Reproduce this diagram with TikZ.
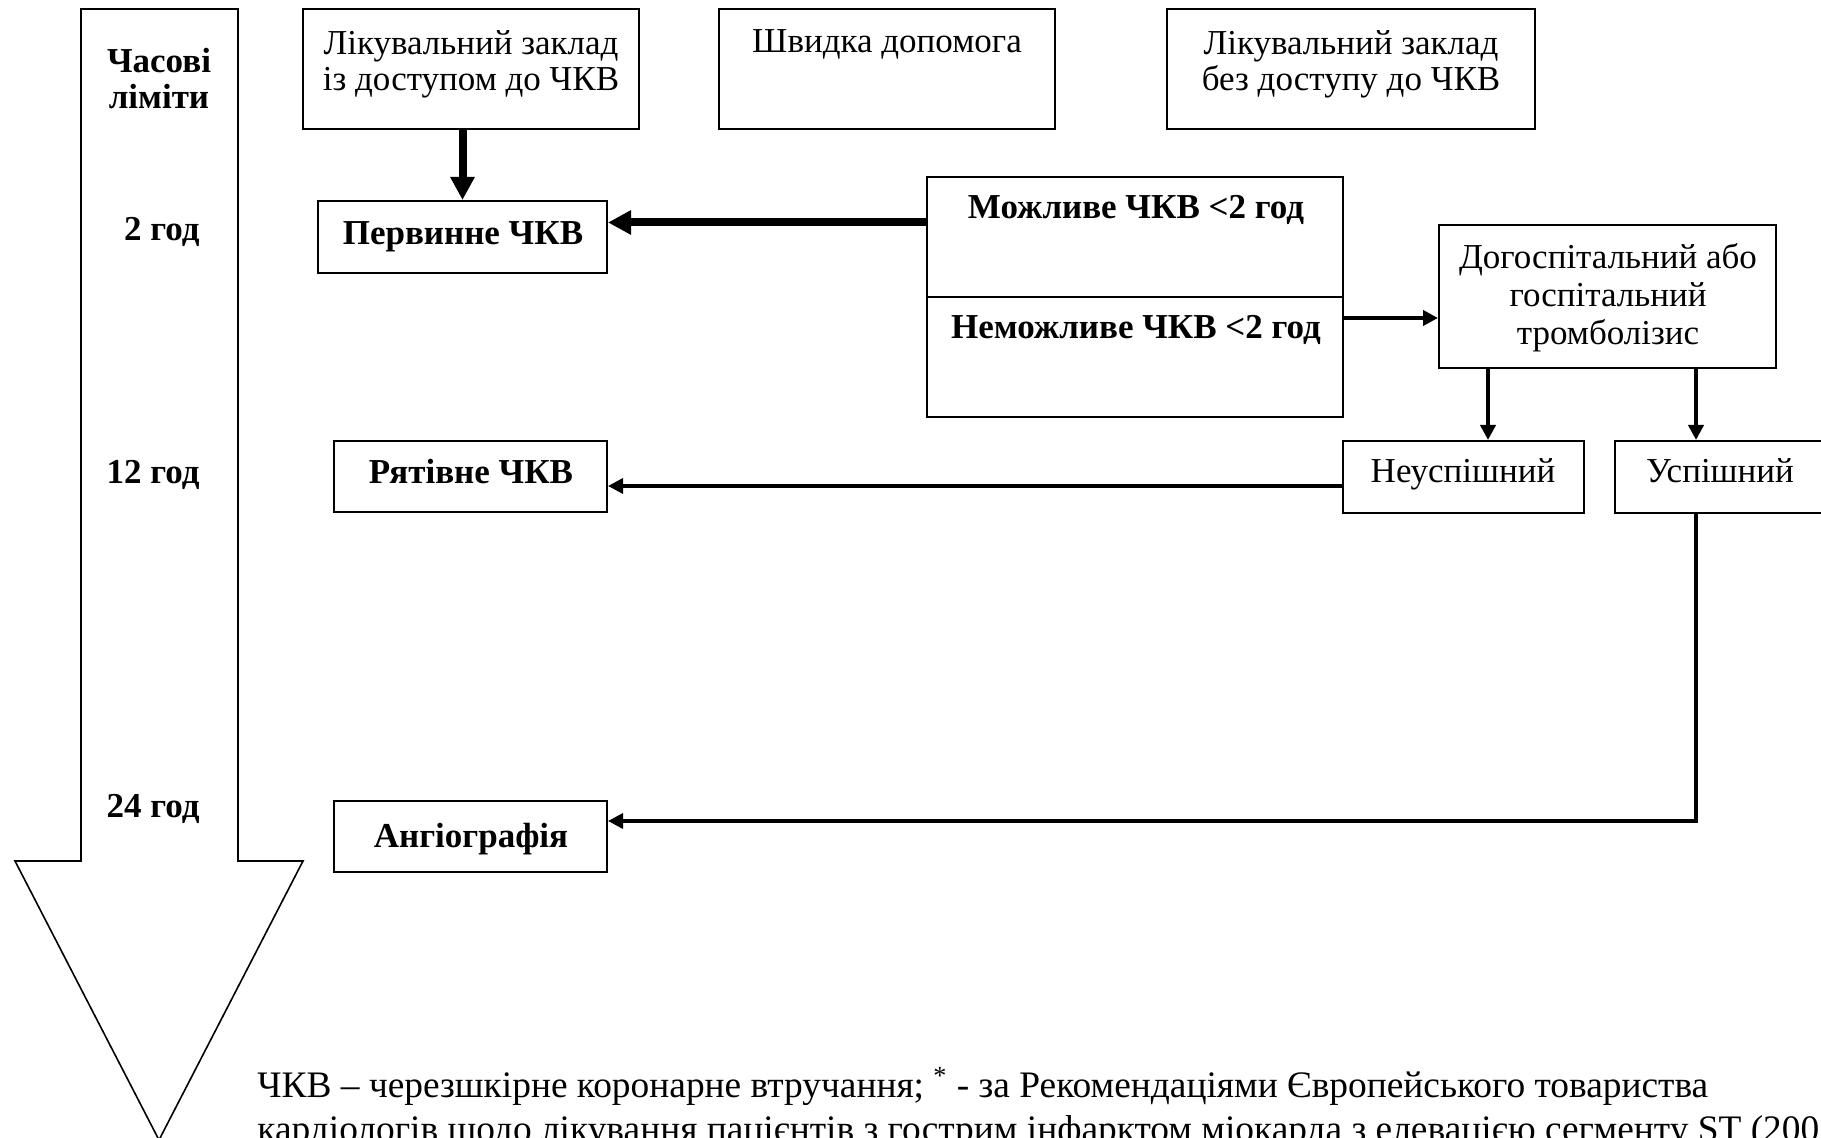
\documentclass[tikz,border=0pt]{standalone}
\usepackage{fontspec}
\setmainfont{Liberation Serif}
\usetikzlibrary{arrows.meta}
\begin{document}
\begin{tikzpicture}[x=0.5pt,y=-0.5pt,
  box/.style 2 args={draw,line width=1pt,minimum width=#1,minimum height=#2,inner sep=0pt},
  txt/.style={font=\fontsize{17.5}{19}\selectfont,inner sep=0pt,anchor=base},
  btxt/.style={txt,font=\fontsize{17.5}{19}\selectfont\bfseries},
  ftxt/.style={txt,font=\fontsize{18.7}{20}\selectfont,anchor=base west},
  bigarr/.style={line width=4pt,-{Triangle[length=11.5pt,width=11.5pt]}},
  midarr/.style={line width=2pt,-{Triangle[length=7.5pt,width=7.5pt]}},
  thinarr/.style={line width=1.7pt,-{Triangle[length=7.5pt,width=7.5pt]}}]
\useasboundingbox (0,0) rectangle (1821,1138);
% time arrow
\draw[line width=0.8pt,line join=miter] (81,9) -- (238,9) -- (238,861) -- (303,861)
  -- (159,1140) -- (15,861) -- (81,861) -- cycle;
\node[btxt] (tl1) at (159,73) {Часові};
\node[btxt] (tl2) at (159,109) {ліміти};
\node[btxt,anchor=base east] (h2) at (200,241) {2 год};
\node[btxt,anchor=base east] (h12) at (200,484) {12 год};
\node[btxt,anchor=base east] (h24) at (200,817) {24 год};
% boxes
\node[box={168pt}{60pt}] (b1) at (471,69) {};
\node[box={168pt}{60pt}] (b2) at (887,69) {};
\node[box={184pt}{60pt}] (b3) at (1351,69) {};
\node[box={144.5pt}{36pt}] (pc) at (462.5,237) {};
\node[box={208pt}{60pt}] (mo) at (1135,237) {};
\node[box={208pt}{60pt}] (ne) at (1135,357) {};
\node[box={168.5pt}{71.5pt}] (tr) at (1607.5,296.5) {};
\node[box={120.5pt}{36pt}] (nu) at (1463.5,477) {};
\node[box={105pt}{36pt}] (us) at (1720,477) {};
\node[box={136.5pt}{35.5pt}] (ry) at (470.5,476.5) {};
\node[box={136.5pt}{35.5pt}] (an) at (470.5,836.5) {};
% texts
\node[txt] (b1a) at (471,55) {Лікувальний заклад};
\node[txt] (b1b) at (471,91) {із доступом до ЧКВ};
\node[txt] (b2a) at (887,53) {Швидка допомога};
\node[txt] (b3a) at (1351,55) {Лікувальний заклад};
\node[txt] (b3b) at (1351,91) {без доступу до ЧКВ};
\node[btxt] (pct) at (463,245) {Первинне ЧКВ};
\node[btxt] (mot) at (1136,219) {Можливе ЧКВ <2 год};
\node[btxt] (net) at (1136,339) {Неможливе ЧКВ <2 год};
\node[txt] (tra) at (1608,269) {Догоспітальний або};
\node[txt] (trb) at (1608,307) {госпітальний};
\node[txt] (trc) at (1608,345) {тромболізис};
\node[txt] (nut) at (1463,483) {Неуспішний};
\node[txt] (ust) at (1720,483) {Успішний};
\node[btxt] (ryt) at (471,484) {Рятівне ЧКВ};
\node[btxt] (ant) at (471,847) {Ангіографія};
\node[ftxt] (fn1) at (257,1097) {ЧКВ – черезшкірне коронарне втручання; \textsuperscript{*} - за Рекомендаціями Європейського товариства};
\node[ftxt] (fn2) at (257,1141) {кардіологів щодо лікування пацієнтів з гострим інфарктом міокарда з елевацією сегменту ST (200};
% connectors
\draw[bigarr] (pc.north |- b1.south) -- (pc.north);
\draw[bigarr] ([yshift=7.25pt]mo.west) -- ([yshift=7.25pt]mo.west -| pc.east);
\draw[midarr] ([yshift=19.5pt]ne.east) -- ([yshift=19.5pt]ne.east -| tr.west);
\draw[midarr] ([xshift=12.25pt]nu.north |- tr.south) -- ([xshift=12.25pt]nu.north);
\draw[midarr] ([xshift=-12pt]us.north |- tr.south) -- ([xshift=-12pt]us.north);
\draw[thinarr] ([yshift=-4.5pt]nu.west) -- ([yshift=-4.5pt]nu.west -| ry.east);
\draw[thinarr] ([xshift=-12pt]us.south) |- ([yshift=7.75pt]an.east);
\end{tikzpicture}
\end{document}
